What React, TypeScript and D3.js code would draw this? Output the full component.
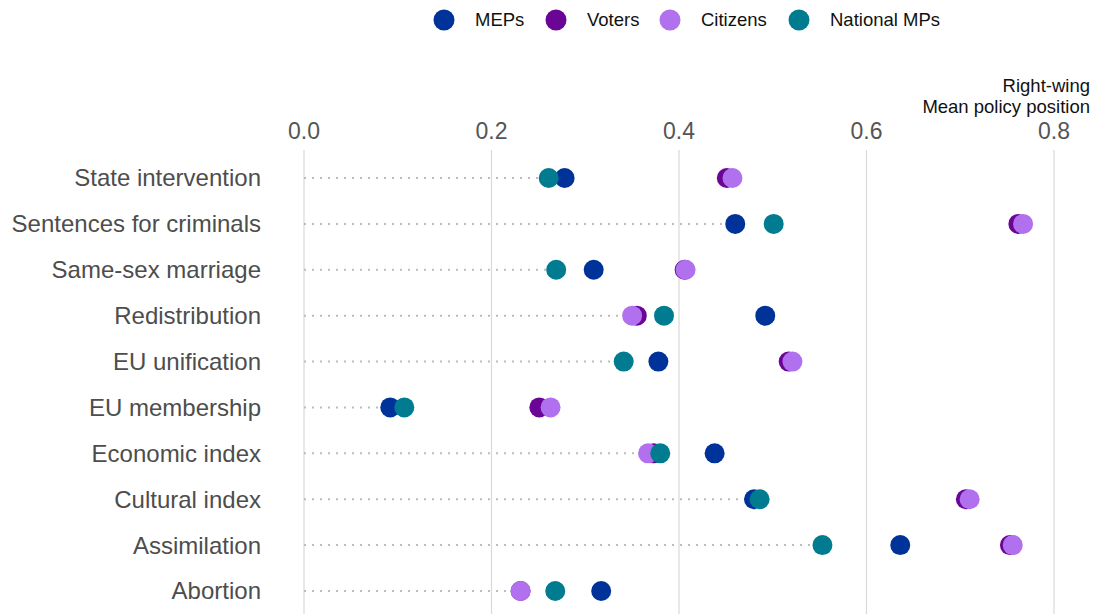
import React from 'react';
import * as d3 from 'd3';

const categories = [
  'State intervention',
  'Sentences for criminals',
  'Same-sex marriage',
  'Redistribution',
  'EU unification',
  'EU membership',
  'Economic index',
  'Cultural index',
  'Assimilation',
  'Abortion',
];

const meps = [0.278, 0.46, 0.309, 0.492, 0.378, 0.092, 0.438, 0.48, 0.636, 0.317];
const voters = [0.451, 0.762, 0.406, 0.355, 0.517, 0.251, 0.373, 0.706, 0.753, 0.231];
const citizens = [0.457, 0.767, 0.407, 0.35, 0.521, 0.263, 0.367, 0.71, 0.756, 0.231];
const nationalMps = [0.261, 0.501, 0.269, 0.384, 0.341, 0.107, 0.38, 0.486, 0.553, 0.268];

const xTicks = [0, 0.2, 0.4, 0.6, 0.8];

const series = [
  { name: 'MEPs', values: meps, color: '#003399' },
  { name: 'Voters', values: voters, color: '#6a0596' },
  { name: 'Citizens', values: citizens, color: '#b170ee' },
  { name: 'National MPs', values: nationalMps, color: '#007b8f' },
];

const W = 1096;
const H = 614;
const font = 'Liberation Sans, Arial, sans-serif';

export default function App() {
  const x = d3.scaleLinear().domain([0, 0.8]).range([304, 1054]);
  const y = d3.scalePoint<string>().domain(categories).range([178, 591]);

  // legend swatch centres
  const legendX = [444, 556, 670, 799];

  return (
    <svg width={W} height={H} style={{ position: 'absolute', left: 0, top: 0 }}>
      <rect width={W} height={H} fill="#fff" />
      {xTicks.map((t) => (
        <g key={t}>
          <line x1={x(t)} x2={x(t)} y1={150} y2={H} stroke="#d9d9d9" strokeWidth={1.2} />
          <text
            x={x(t)}
            y={139}
            textAnchor="middle"
            fontFamily={font}
            fontSize={23}
            fill="#555"
          >
            {d3.format('.1f')(t)}
          </text>
        </g>
      ))}
      <text x={1090} y={92} textAnchor="end" fontFamily={font} fontSize={18.5} fill="#111">
        Right-wing
      </text>
      <text x={1090} y={113} textAnchor="end" fontFamily={font} fontSize={18.5} fill="#111">
        Mean policy position
      </text>
      {categories.map((c, i) => {
        const minV = d3.min(series, (s) => s.values[i]) as number;
        return (
          <g key={c}>
            <text
              x={261}
              y={y(c)!}
              dy="0.35em"
              textAnchor="end"
              fontFamily={font}
              fontSize={24}
              fill="#4d4d4d"
            >
              {c}
            </text>
            <line
              x1={x(0)}
              x2={x(minV)}
              y1={y(c)!}
              y2={y(c)!}
              stroke="#bdbdbd"
              strokeWidth={2}
              strokeDasharray="2,6"
            />
          </g>
        );
      })}
      {series.map((s) =>
        s.values.map((v, i) => (
          <circle key={s.name + i} cx={x(v)} cy={y(categories[i])!} r={10} fill={s.color} />
        ))
      )}
      {series.map((s, i) => (
        <g key={s.name}>
          <circle cx={legendX[i]} cy={20} r={10.5} fill={s.color} />
          <text x={legendX[i] + 31} y={20} dy="0.35em" fontFamily={font} fontSize={18.5} fill="#111">
            {s.name}
          </text>
        </g>
      ))}
    </svg>
  );
}
